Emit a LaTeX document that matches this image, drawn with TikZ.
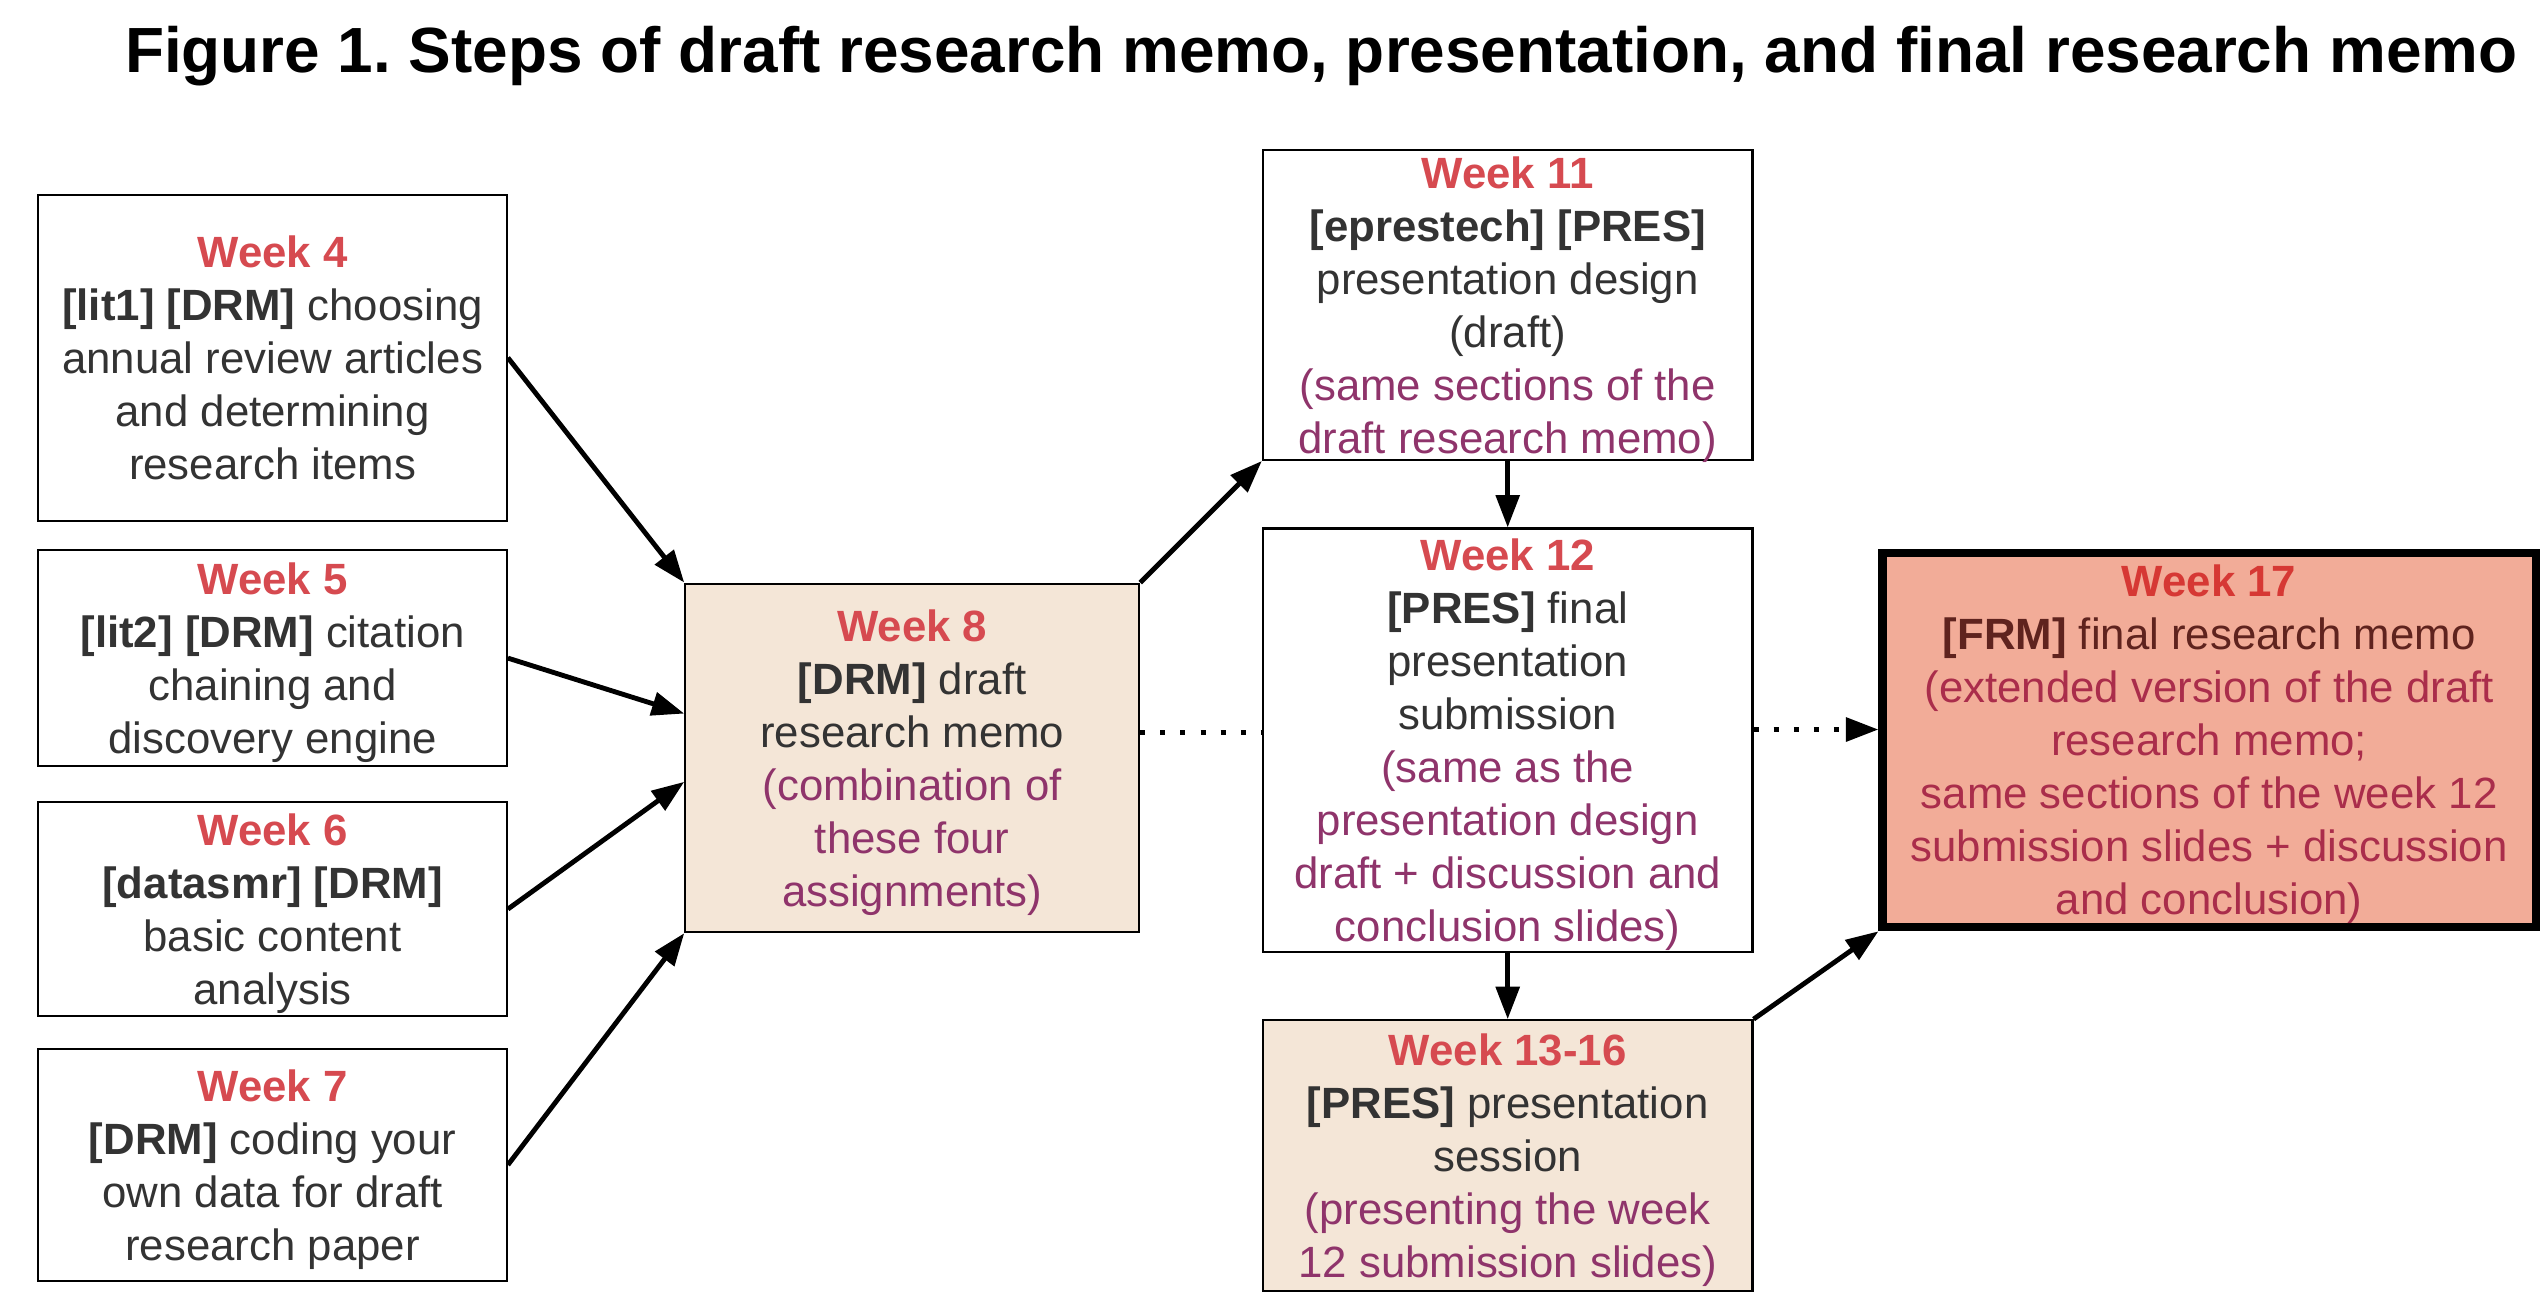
\documentclass[tikz,border=0pt]{standalone}
\usepackage{fontspec}
\setmainfont{Liberation Sans}
\usepackage{xcolor}
\usetikzlibrary{arrows.meta,positioning,calc}

\definecolor{weekred}{RGB}{214,74,80}
\definecolor{darktext}{RGB}{51,51,51}
\definecolor{notepurple}{RGB}{143,52,107}
\definecolor{beige}{RGB}{244,230,215}
\definecolor{salmon}{RGB}{242,172,152}
\definecolor{frmred}{RGB}{214,56,52}
\definecolor{frmbrown}{RGB}{95,35,30}
\definecolor{frmnote}{RGB}{170,45,75}

\newcommand{\wk}[1]{\textcolor{weekred}{\bfseries #1}}
\newcommand{\notetxt}[1]{\textcolor{notepurple}{#1}}

\begin{document}
\begin{tikzpicture}[>={Triangle[length=10pt,width=7.2pt]},
font=\fontsize{13.5}{16.35}\selectfont,
box/.style={draw,line width=0.65pt,align=center,text=darktext,inner xsep=2pt,inner ysep=0pt,text depth=0pt},
leftbox/.style={box,minimum width=144.5pt},
midbox/.style={box,minimum width=151pt},
arr/.style={->,line width=1.5pt},
dots/.style={line width=1.55pt,dash pattern=on 1.55pt off 4.65pt}]
\useasboundingbox (0,0) rectangle (784pt,-403pt);
\node[anchor=base,font=\fontsize{19.7}{23}\selectfont\bfseries\frenchspacing] (title) at (407.5pt,-22.5pt) {Figure 1. Steps of draft research memo, presentation, and final research memo};
% left column
\node[leftbox,minimum height=100.5pt,anchor=north west] (lit1) at (11.5pt,-59.75pt) {\wk{Week 4}\\\textbf{[lit1] [DRM]} choosing\\annual review articles\\and determining\\research items};
\node[leftbox,minimum height=66.5pt,below=8.5pt of lit1] (lit2) {\wk{Week 5}\\\textbf{[lit2] [DRM]} citation\\chaining and\\discovery engine};
\node[leftbox,minimum height=66pt,below=10.5pt of lit2] (datasmr) {\wk{Week 6}\\\textbf{[datasmr] [DRM]}\\basic content\\analysis};
\node[leftbox,minimum height=71.5pt,below=9.5pt of datasmr] (coding) {\wk{Week 7}\\\textbf{[DRM]} coding your\\own data for draft\\research paper};
% presentation column
\node[midbox,minimum height=130.5pt] (pres12) at (465pt,-228.25pt) {\wk{Week 12}\\\textbf{[PRES]} final\\presentation\\submission\\\notetxt{(same as the}\\\notetxt{presentation design}\\\notetxt{draft + discussion and}\\\notetxt{conclusion slides)}};
\node[midbox,minimum height=95.5pt,above=20.5pt of pres12] (pres11) {\wk{Week 11}\\\textbf{[eprestech] [PRES]}\\presentation design\\(draft)\\\notetxt{(same sections of the}\\\notetxt{draft research memo)}};
\node[midbox,minimum height=83.5pt,below=20.5pt of pres12,fill=beige] (session) {\wk{Week 13-16}\\\textbf{[PRES]} presentation\\session\\\notetxt{(presenting the week}\\\notetxt{12 submission slides)}};
\node[box,minimum width=140pt,minimum height=107.5pt,fill=beige,left=37.5pt of pres12,yshift=-5.5pt] (drm) {\wk{Week 8}\\\textbf{[DRM]} draft\\research memo\\\notetxt{(combination of}\\\notetxt{these four}\\\notetxt{assignments)}};
\node[box,line width=2.5pt,minimum width=201.5pt,minimum height=115.5pt,fill=salmon,text=frmbrown,right=38.5pt of pres12] (frm) {\textcolor{frmred}{\bfseries Week 17}\\\textbf{[FRM]} final research memo\\\textcolor{frmnote}{(extended version of the draft}\\\textcolor{frmnote}{research memo;}\\\textcolor{frmnote}{same sections of the week 12}\\\textcolor{frmnote}{submission slides + discussion}\\\textcolor{frmnote}{and conclusion)}};
% connectors
\draw[arr](lit1.east)--(drm.north west);
\draw[arr](lit2.east)--(drm.169.7);
\draw[arr](datasmr.east)--(drm.186.7);
\draw[arr](coding.east)--(drm.south west);
\draw[arr](drm.north east)--(pres11.south west);
\draw[dots]([yshift=2.25pt]pres12.west -| drm.east)--([yshift=2.25pt]pres12.west);
\draw[arr](pres11)--(pres12);\draw[arr](pres12)--(session);
\draw[dots,->]([yshift=3.25pt]pres12.east)--([yshift=3.25pt]pres12.east -| frm.west);
\draw[arr](session.north east)--(frm.south west);
\end{tikzpicture}
\end{document}
